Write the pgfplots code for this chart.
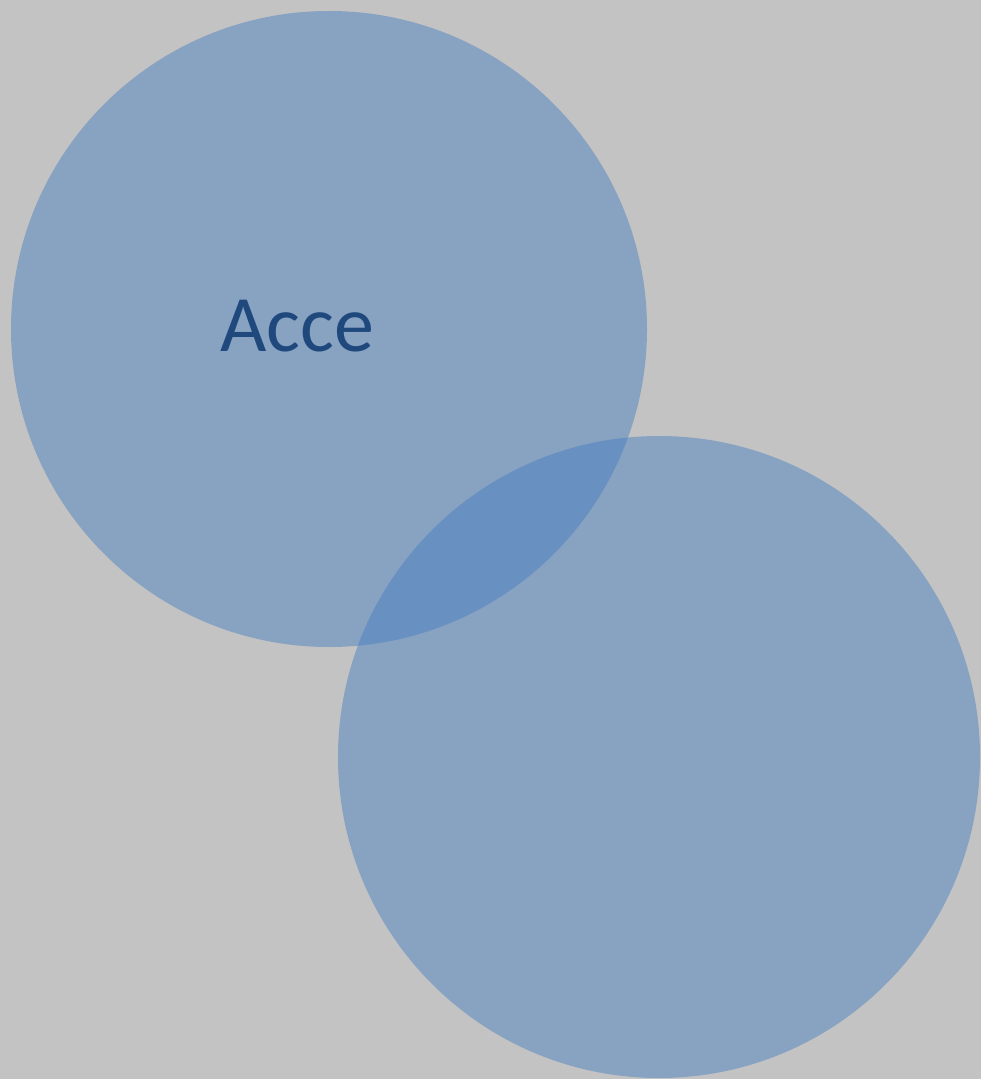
\documentclass[border=0pt]{standalone}
\usepackage{fontspec}
\setmainfont{Carlito}
\usepackage{pgfplots}
\pgfplotsset{compat=1.18}
\definecolor{bgc}{RGB}{195,195,195}
\definecolor{circc}{RGB}{70,126,193}
\definecolor{txtc}{RGB}{31,73,125}
\begin{document}
\begin{tikzpicture}
\begin{axis}[
  scale only axis, width=490.5pt, height=539.5pt,
  xmin=0, xmax=981, ymin=0, ymax=1079, y dir=reverse,
  hide axis, clip=true,
]
\addplot[fill=bgc, draw=none] coordinates {(0,0) (981,0) (981,1079) (0,1079)} -- cycle;
% circle 1: centre (329,329), radius 318 -> 159pt
\addplot[only marks, mark=*, mark size=159pt, draw=none, fill=circc, fill opacity=0.47,
  mark options={draw=circc, draw opacity=0, line width=0pt, fill=circc, fill opacity=0.47}] coordinates {(329,329)};
% circle 2: centre (659,757), radius 321 -> 160.5pt
\addplot[only marks, mark=*, mark size=160.5pt, draw=none, fill=circc, fill opacity=0.47,
  mark options={draw=circc, draw opacity=0, line width=0pt, fill=circc, fill opacity=0.47}] coordinates {(659,757)};
\coordinate (T) at (axis cs:297,326);
\end{axis}
\node[text=txtc, font=\fontsize{40}{48}\selectfont, inner sep=0pt] at (T) {Acce};
\end{tikzpicture}
\end{document}
